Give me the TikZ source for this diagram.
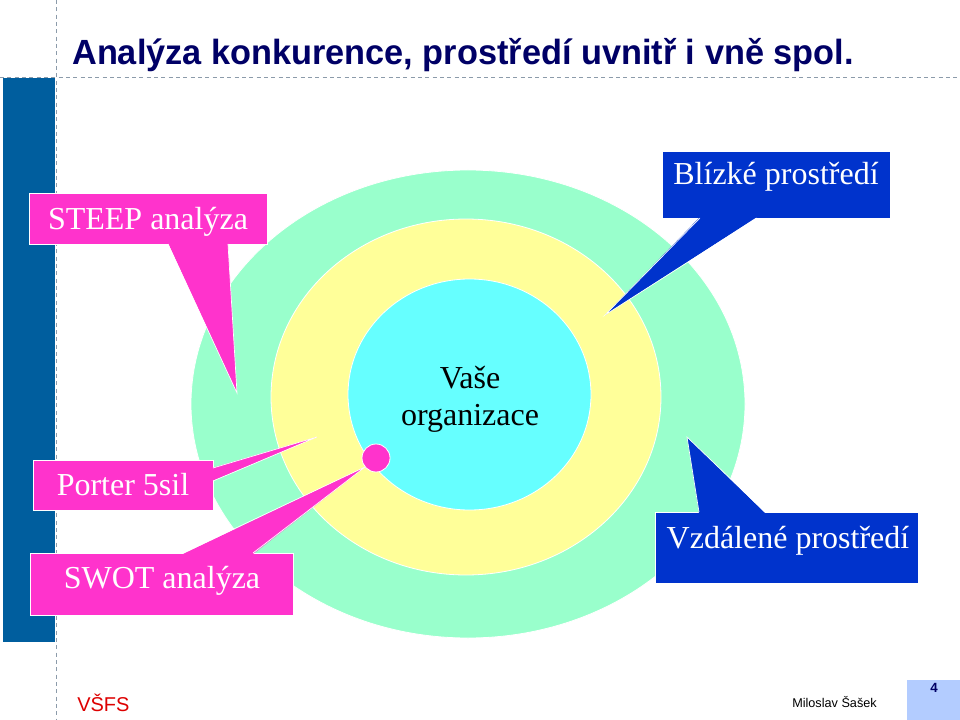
\documentclass[tikz,border=0pt]{standalone}
\usepackage{fontspec}
\setmainfont{Liberation Serif}
\newfontfamily\arialf{Liberation Sans}
\newfontfamily\titlef[FakeStretch=0.98]{Liberation Sans}
\usetikzlibrary{fit,shapes.geometric}
\definecolor{ringgreen}{HTML}{99FFCC}
\definecolor{ringyellow}{HTML}{FFFF99}
\definecolor{ringcyan}{HTML}{66FFFF}
\definecolor{calpink}{HTML}{FF33CC}
\definecolor{calblue}{HTML}{0033CC}
\definecolor{barblue}{HTML}{005E9E}
\definecolor{titlenavy}{HTML}{000066}
\definecolor{dashgray}{HTML}{8C9BAA}
\definecolor{vsfsred}{HTML}{DD0000}
\definecolor{pagebox}{HTML}{B3CCFF}
\begin{document}
\begin{tikzpicture}[x=0.75pt,y=-0.75pt,
  ring/.style={ellipse,draw=white,line width=0.6pt,inner sep=0pt},
  callbox/.style={inner sep=0pt,draw=white,line width=0.5pt},
  caltext/.style={anchor=base,inner sep=0pt,text=white,font=\fontsize{24}{28}\selectfont},
  edgeline/.style={white,line width=0.5pt},
  dashline/.style={dashgray,dash pattern=on 3pt off 2.5pt,line width=0.6pt}]
\useasboundingbox (0,0) rectangle (960,720);
% left bar and guide lines
\fill[barblue] (3,78) rectangle (55,642);
\draw[dashline] (56,0) -- (56,720);
\draw[dashline] (0,77) -- (960,77);
\node[anchor=base west,inner sep=0pt,text=titlenavy,font=\titlef\bfseries\fontsize{26.25}{30}\selectfont] (title) at (72,65) {Analýza konkurence, prostředí uvnitř i vně spol.};
% rings
\node[ring,fill=ringgreen,minimum width=415.5pt,minimum height=351pt] (outer) at (468,404) {};
\node[ring,fill=ringyellow,minimum width=292.5pt,minimum height=267pt] (middle) at (466,397) {};
\node[ring,fill=ringcyan,minimum width=182.25pt,minimum height=173.25pt] (inner) at (469.5,394.5) {};
\node[anchor=base,inner sep=0pt,font=\fontsize{24}{28}\selectfont] (vase) at (470,388) {Vaše};
\node[anchor=base,inner sep=0pt,font=\fontsize{24}{28}\selectfont] (org) at (470,425) {organizace};
% STEEP
\node[callbox,fill=calpink,fit={(29,193) (267,244)}] (steepbox) {};
\coordinate (steeptip) at (237,393);
\fill[calpink] (168,243) -- (steeptip) -- (228,243) -- cycle;
\draw[edgeline] (168,244) -- (steeptip) -- (228,244);
\node[caltext] (steeptext) at (148,230) {STEEP analýza};
% Blizke
\node[callbox,fill=calblue,fit={(662,151) (890,218)}] (blizbox) {};
\coordinate (bliztip) at (605,315);
\fill[calblue] (700,217) -- (bliztip) -- (757,217) -- cycle;
\draw[edgeline] (700,218) -- (bliztip) -- (757,218);
\node[caltext] (bliztext) at (776,185) {Blízké prostředí};
% Vzdalene
\node[callbox,fill=calblue,fit={(655,512) (918,583)}] (vzdbox) {};
\coordinate (vzdtip) at (687,437);
\fill[calblue] (699,513) -- (vzdtip) -- (765,513) -- cycle;
\draw[edgeline] (699,512) -- (vzdtip) -- (765,512);
\node[caltext] (vzdtext) at (788,548) {Vzdálené prostředí};
% Porter
\node[callbox,fill=calpink,fit={(33,460) (213,510)}] (portbox) {};
\coordinate (porttip) at (317,437);
\fill[calpink] (212,468) -- (porttip) -- (212,481) -- cycle;
\draw[edgeline] (213,468) -- (porttip) -- (213,481);
\node[caltext] (porttext) at (123,495) {Porter 5sil};
% SWOT
\node[callbox,fill=calpink,fit={(30,553) (293,615)}] (swotbox) {};
\coordinate (swottip) at (365,467);
\fill[calpink] (183,554) -- (swottip) -- (253,554) -- cycle;
\draw[edgeline] (183,553) -- (swottip) -- (253,553);
\node[caltext] (swottext) at (162,588) {SWOT analýza};
\node[circle,fill=calpink,draw=white,line width=0.6pt,minimum size=21pt,inner sep=0pt] (dot) at (376,458) {};
% footer
\node[anchor=base west,inner sep=0pt,text=vsfsred,font=\arialf\fontsize{15}{18}\selectfont] (vsfs) at (77,711) {VŠFS};
\node[anchor=base west,inner sep=0pt,font=\arialf\fontsize{9.5}{11}\selectfont] (author) at (792,707) {Miloslav Šašek};
\node[fill=pagebox,inner sep=0pt,fit={(907,680) (960,720)}] (pagebx) {};
\node[anchor=base,inner sep=0pt,text=titlenavy,font=\arialf\bfseries\fontsize{10}{12}\selectfont] (pagenum) at (934,692) {4};
\end{tikzpicture}
\end{document}
